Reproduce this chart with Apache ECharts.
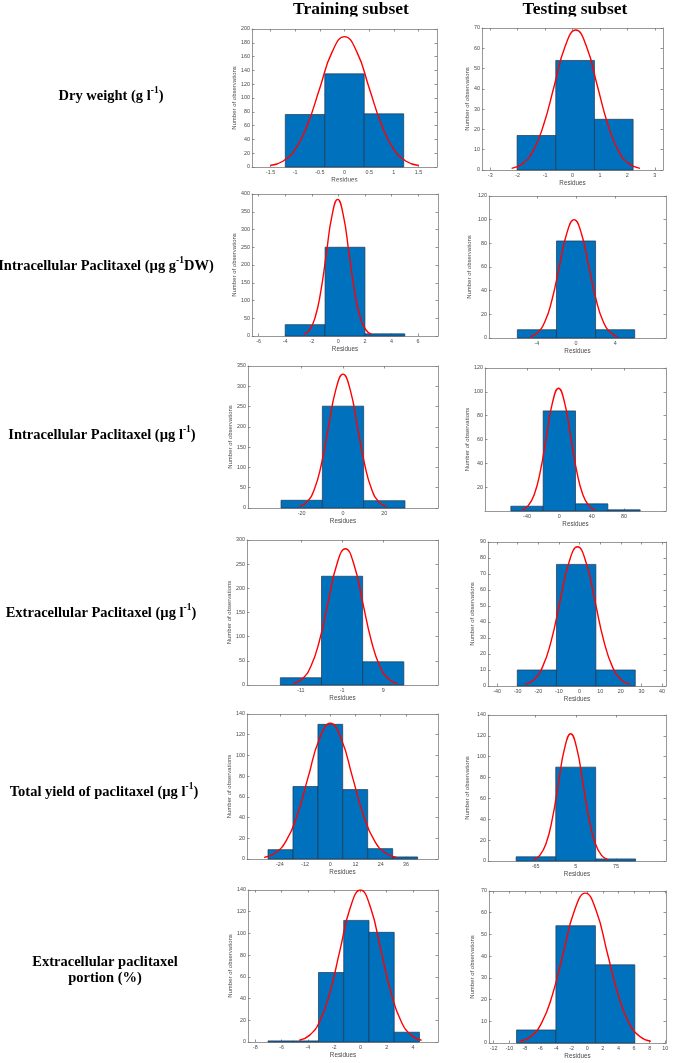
<!DOCTYPE html>
<html><head><meta charset="utf-8">
<script src="https://cdn.jsdelivr.net/npm/echarts@6/dist/echarts.min.js"></script>
<style>html,body{margin:0;padding:0;background:#fff}#c{width:690px;height:1063px}</style>
</head><body><div id="c"></div>
<script>
// ---------------- DATA ----------------
const columnTitles = ['Training subset', 'Testing subset'];
const rowLabels = [
  'Dry weight (g l{s|-1})',
  'Intracellular Paclitaxel (µg g{s|-1}DW)',
  'Intracellular Paclitaxel (µg l{s|-1})',
  'Extracellular Paclitaxel (µg l{s|-1})',
  'Total yield of paclitaxel (µg l{s|-1})',
  'Extracellular paclitaxel\nportion (%)'
];
const xAxisName = 'Residues';
const yAxisName = 'Number of observations';

// panel order: row by row, training then testing
const binEdges = [
  [-1.2, -0.4, 0.4, 1.2],
  [-2.02, -0.61, 0.8, 2.21],
  [-4, -1, 2, 5],
  [-6, -2, 2, 6],
  [-30, -10, 10, 30],
  [-60, -20, 20, 60, 100],
  [-16, -6, 4, 14],
  [-30.2, -11.2, 7.9, 27],
  [-29.7, -17.8, -5.9, 5.9, 17.8, 29.7, 41.6],
  [-99, -30, 39.5, 109],
  [-7.03, -5.11, -3.19, -1.27, 0.65, 2.57, 4.49],
  [-9.07, -4.02, 1.05, 6.1]
];
const binCounts = [
  [76, 135, 77],
  [17, 54, 25],
  [32, 250, 6],
  [7, 82, 7],
  [19, 251, 18],
  [4, 84, 6, 1],
  [15, 225, 48],
  [10, 76, 10],
  [9, 70, 130, 67, 10, 2],
  [4, 90, 2],
  [1, 1, 64, 112, 101, 9],
  [6, 54, 36]
];
const curveX = [
  [-1.5, -1.25, -1, -0.75, -0.5, -0.25, 0, 0.25, 0.5, 0.75, 1, 1.25, 1.5],
  [-2.22, -1.83, -1.44, -1.05, -0.66, -0.27, 0.12, 0.51, 0.9, 1.29, 1.68, 2.07, 2.46],
  [-2.6, -2.175, -1.75, -1.325, -0.9, -0.475, -0.05, 0.375, 0.8, 1.225, 1.65, 2.075, 2.5],
  [-4.7, -3.95, -3.2, -2.45, -1.7, -0.95, -0.2, 0.55, 1.3, 2.05, 2.8, 3.55, 4.3],
  [-21, -17.5, -14, -10.5, -7, -3.5, 0, 3.5, 7, 10.5, 14, 17.5, 21],
  [-46, -38.5, -31, -23.5, -16, -8.5, -1, 6.5, 14, 21.5, 29, 36.5, 44],
  [-12.8, -10.7, -8.6, -6.5, -4.4, -2.3, -0.2, 1.9, 4, 6.1, 8.2, 10.3, 12.4],
  [-26.5, -22.25, -18, -13.75, -9.5, -5.25, -1, 3.25, 7.5, 11.75, 16, 20.25, 24.5],
  [-31.5, -26.25, -21, -15.75, -10.5, -5.25, 0, 5.25, 10.5, 15.75, 21, 26.25, 31.5],
  [-68.5, -57.75, -47, -36.25, -25.5, -14.75, -4, 6.75, 17.5, 28.25, 39, 49.75, 60.5],
  [-4.65, -3.875, -3.1, -2.325, -1.55, -0.775, 0, 0.775, 1.55, 2.325, 3.1, 3.875, 4.65],
  [-8.65, -7.25, -5.85, -4.45, -3.05, -1.65, -0.25, 1.15, 2.55, 3.95, 5.35, 6.75, 8.15]
];
const curveY = [
  [2.1, 8.3, 25.6, 61.4, 114.6, 166.8, 189, 166.8, 114.6, 61.4, 25.6, 8.3, 2.1],
  [0.8, 3.0, 9.3, 22.4, 41.8, 60.9, 69, 60.9, 41.8, 22.4, 9.3, 3.0, 0.8],
  [4.3, 16.9, 52.1, 125, 233.5, 339.8, 385, 339.8, 233.5, 125, 52.1, 16.9, 4.3],
  [1.1, 4.4, 13.5, 32.5, 60.7, 88.3, 100, 88.3, 60.7, 32.5, 13.5, 4.4, 1.1],
  [3.7, 14.5, 44.6, 107.2, 200.1, 291.2, 330, 291.2, 200.1, 107.2, 44.6, 14.5, 3.7],
  [1.1, 4.5, 13.9, 33.4, 62.5, 90.9, 103, 90.9, 62.5, 33.4, 13.9, 4.5, 1.1],
  [3.1, 12.4, 38.2, 91.6, 171, 248.9, 282, 248.9, 171, 91.6, 38.2, 12.4, 3.1],
  [1.0, 3.8, 11.8, 28.2, 52.8, 76.8, 87, 76.8, 52.8, 28.2, 11.8, 3.8, 1.0],
  [1.5, 5.8, 17.7, 42.5, 79.5, 115.6, 131, 115.6, 79.5, 42.5, 17.7, 5.8, 1.5],
  [1.4, 5.4, 16.5, 39.6, 74, 107.7, 122, 107.7, 74, 39.6, 16.5, 5.4, 1.4],
  [1.6, 6.1, 18.9, 45.5, 84.9, 123.6, 140, 123.6, 84.9, 45.5, 18.9, 6.1, 1.6],
  [0.8, 3.0, 9.3, 22.4, 41.8, 60.9, 69, 60.9, 41.8, 22.4, 9.3, 3.0, 0.8]
];
const xTickLabels = [
  [-1.5, -1, -0.5, 0, 0.5, 1, 1.5],
  [-3, -2, -1, 0, 1, 2, 3],
  [-6, -4, -2, 0, 2, 4, 6],
  [-4, 0, 4],
  [-20, 0, 20],
  [-40, 0, 40, 80],
  [-11, -1, 9],
  [-40, -30, -20, -10, 0, 10, 20, 30, 40],
  [-24, -12, 0, 12, 24, 36],
  [-65, 5, 75],
  [-8, -6, -4, -2, 0, 2, 4],
  [-12, -10, -8, -6, -4, -2, 0, 2, 4, 6, 8, 10]
];
const xRange = [
  [-1.875, 1.875], [-3.3, 3.3], [-6.5, 7.5], [-8.9, 9.2],
  [-46, 46], [-92, 132], [-24.1, 22.3], [-44.4, 41.9],
  [-39.7, 51.3], [-148, 162], [-8.55, 5.9], [-12.6, 10.1]
];
const yMax = [200, 70, 400, 120, 350, 120, 300, 90, 140, 140, 140, 70];
const yStep = [20, 10, 50, 20, 50, 20, 50, 10, 20, 20, 20, 10];
const yShowZero = [true, true, true, true, true, false, true, true, true, true, true, true];

// ---------------- LAYOUT ----------------
const gridBoxes = [
  [252, 29, 185, 138], [482, 28, 181, 142],
  [252, 194, 186, 142], [489, 196, 177, 142],
  [248, 366, 190, 142], [485, 368, 181, 143],
  [247, 540, 191, 145], [488, 542, 178, 144],
  [247, 714, 191, 145], [488, 715, 178, 146],
  [248, 890, 190, 152], [489, 891, 177, 152]
];
const yNameGaps = [14, 6, 14, 17, 15, 14, 15, 13, 15, 18, 15, 14];
const rowLabelPos = [[111, 96], [106, 266], [102, 435], [101, 613], [104, 792], [105, 970]];
const titlePos = [[351, 9], [575, 9]];
// white strips where the source figure's pasted panels clip neighbouring text
const maskRects = [[280, 16.6, 380, 7], [300, 181.5, 90, 6]];

const AX = '#8c8c8c', TXT = '#4a4a4a', SANS = 'Liberation Sans, Arial, sans-serif';
const SERIF = 'Liberation Serif, Times New Roman, serif';

function renderBar(params, api) {
  const p0 = api.coord([api.value(0), api.value(2)]);
  const p1 = api.coord([api.value(1), 0]);
  return {
    type: 'rect',
    shape: { x: p0[0], y: p0[1], width: p1[0] - p0[0], height: p1[1] - p0[1] },
    style: { fill: '#0072BD', stroke: '#1f3550', lineWidth: 0.7 }
  };
}

const grids = [], xAxes = [], yAxes = [], series = [];
binEdges.forEach((edges, i) => {
  const [l, t, w, h] = gridBoxes[i];
  grids.push({ left: l, top: t, width: w, height: h, show: false });
  const line = { show: true, onZero: false, lineStyle: { color: AX, width: 0.9 } };
  const tickX = { show: true, inside: true, length: 2.5, customValues: xTickLabels[i], lineStyle: { color: '#777', width: 0.8 } };
  xAxes.push({
    type: 'value', gridIndex: i, position: 'bottom', min: xRange[i][0], max: xRange[i][1],
    axisLine: line, axisTick: tickX, splitLine: { show: false },
    axisLabel: { customValues: xTickLabels[i], fontSize: 5.4, color: TXT, margin: 3, fontFamily: SANS },
    name: xAxisName, nameLocation: 'middle', nameGap: 10,
    nameTextStyle: { fontSize: 6.3, color: TXT, fontFamily: SANS }
  });
  xAxes.push({
    type: 'value', gridIndex: i, position: 'top', min: xRange[i][0], max: xRange[i][1],
    axisLine: line, axisTick: tickX, splitLine: { show: false }, axisLabel: { show: false }
  });
  const tickY = { show: true, inside: true, length: 2.5, lineStyle: { color: '#777', width: 0.8 } };
  yAxes.push({
    type: 'value', gridIndex: i, position: 'left', min: 0, max: yMax[i], interval: yStep[i],
    axisLine: line, axisTick: tickY, splitLine: { show: false },
    axisLabel: { fontSize: 5.4, color: TXT, margin: 2, fontFamily: SANS, showMinLabel: yShowZero[i] },
    name: yAxisName, nameLocation: 'middle', nameRotate: 90, nameGap: yNameGaps[i],
    nameTextStyle: { fontSize: 6, color: TXT, fontFamily: SANS }
  });
  yAxes.push({
    type: 'value', gridIndex: i, position: 'right', min: 0, max: yMax[i], interval: yStep[i],
    axisLine: line, axisTick: tickY, splitLine: { show: false }, axisLabel: { show: false }
  });
  const bars = binCounts[i].map((c, k) => [edges[k], edges[k + 1], c]);
  series.push({
    type: 'custom', xAxisIndex: 2 * i, yAxisIndex: 2 * i, renderItem: renderBar,
    data: bars, encode: { x: [0, 1], y: 2 }, silent: true, z: 2
  });
  series.push({
    type: 'line', xAxisIndex: 2 * i, yAxisIndex: 2 * i, smooth: 0.5, symbol: 'none', silent: true, z: 3,
    data: curveX[i].map((x, k) => [x, curveY[i][k]]),
    lineStyle: { color: '#ff0000', width: 1.4 }
  });
});

const graphic = [];
columnTitles.forEach((t, j) => {
  graphic.push({
    type: 'text', x: titlePos[j][0], y: titlePos[j][1], silent: true, z: 10,
    style: { text: t, align: 'center', verticalAlign: 'middle', textAlign: 'center', textVerticalAlign: 'middle',
      fontFamily: SERIF, fontWeight: 'bold', fontSize: 17.5, fill: '#000' }
  });
});
rowLabels.forEach((t, r) => {
  graphic.push({
    type: 'text', x: rowLabelPos[r][0], y: rowLabelPos[r][1], silent: true, z: 10,
    style: { text: t, align: 'center', verticalAlign: 'middle', textAlign: 'center', textVerticalAlign: 'middle',
      fontFamily: SERIF, fontWeight: 'bold', fontSize: 14.5, lineHeight: t.indexOf('\n') >= 0 ? 16.5 : 20, fill: '#000',
      rich: { s: { fontFamily: SERIF, fontWeight: 'bold', fontSize: 9.5, lineHeight: 9.5, verticalAlign: 'top', fill: '#000' } } }
  });
});
maskRects.forEach(m => {
  graphic.push({ type: 'rect', silent: true, z: 100, shape: { x: m[0], y: m[1], width: m[2], height: m[3] }, style: { fill: '#fff' } });
});

const chart = echarts.init(document.getElementById('c'), null, { renderer: 'canvas' });
chart.setOption({
  animation: false, backgroundColor: '#fff',
  grid: grids, xAxis: xAxes, yAxis: yAxes, series: series, graphic: graphic
});
</script></body></html>
